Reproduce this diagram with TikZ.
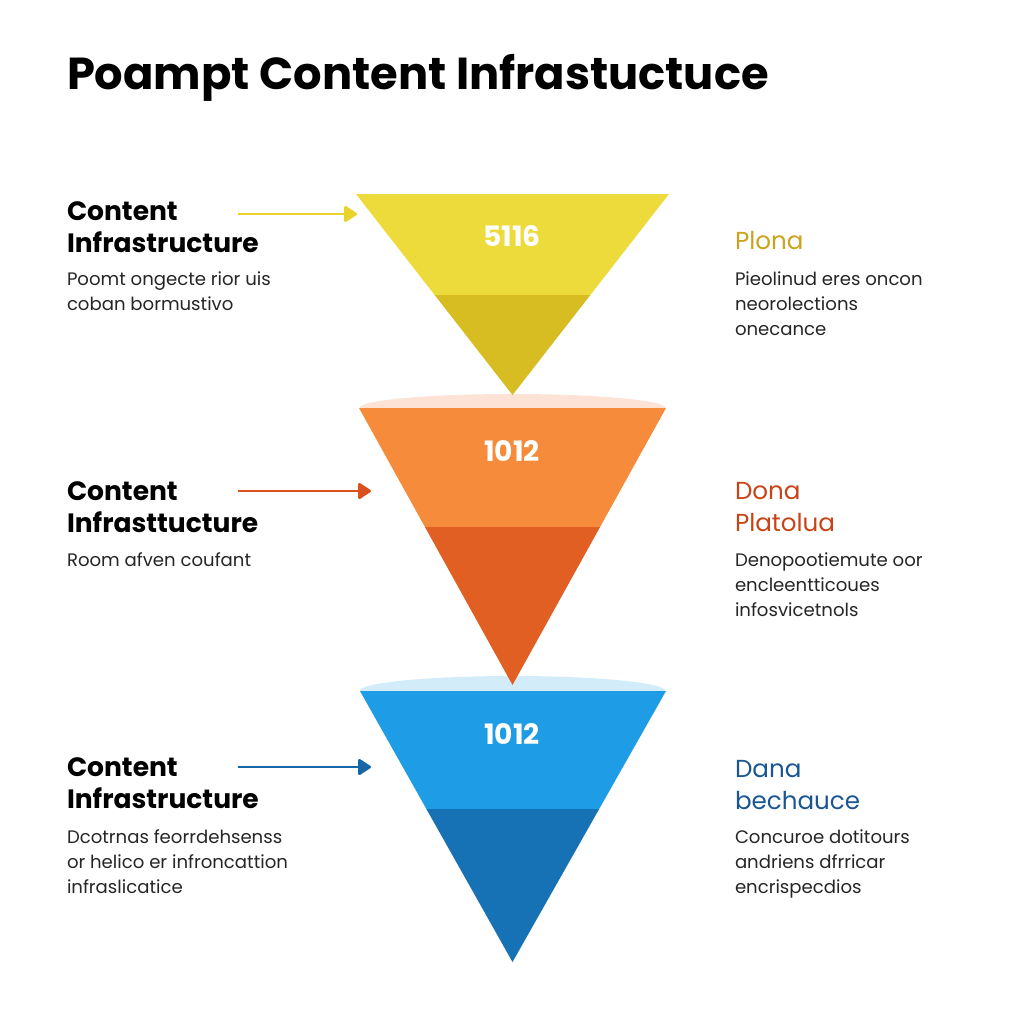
\documentclass[tikz,border=0pt]{standalone}
\usepackage{fontspec}
\setmainfont{Poppins}
\usetikzlibrary{arrows.meta,calc,positioning}

\definecolor{ytop}{HTML}{EDDA3B}
\definecolor{ylow}{HTML}{D7BD22}
\definecolor{otop}{HTML}{F68C3B}
\definecolor{olow}{HTML}{E15F22}
\definecolor{btop}{HTML}{1F9CE6}
\definecolor{blow}{HTML}{1671B5}
\definecolor{ocap}{HTML}{FCE3D6}
\definecolor{bcap}{HTML}{D3ECFA}
\definecolor{yarrow}{HTML}{E9D32B}
\definecolor{oarrow}{HTML}{D9511E}
\definecolor{barrow}{HTML}{1667A8}
\definecolor{ygold}{HTML}{C9A41F}
\definecolor{ored}{HTML}{C64418}
\definecolor{bnavy}{HTML}{1A5792}

\begin{document}
\begin{tikzpicture}
    [x=0.02cm,y=-0.02cm,
     every node/.style={inner sep=0pt,outer sep=0pt},
     head/.style={anchor=base west,align=left,font=\bfseries\fontsize{15.1}{18.2}\selectfont},
     desc/.style={anchor=base west,align=left,text=black!85,font=\fontsize{10.3}{14.2}\selectfont},
     side/.style={anchor=base west,align=left,font=\fontsize{14}{18.2}\selectfont},
     num/.style={text=white,font=\bfseries\fontsize{16}{19}\selectfont},
     pointer/.style={line width=1.5pt,-{Triangle[round,length=8pt,width=10pt]}}]
    \fill[white] (0,0) rectangle (1024,1024);
    \node[anchor=base west,font=\bfseries\fontsize{25.5}{30}\selectfont] (title) at (67,90) {Poampt Content Infrastuctuce};

    % light caps behind the lower funnels
    \fill[ocap] (512.5,408) ellipse [x radius=153,y radius=14];
    \fill[bcap] (512.5,691) ellipse [x radius=153,y radius=15];

    % the three funnels
    \foreach \i/\xl/\xr/\yt/\ya/\ys/\yn/\ct/\cl/\val in
      {1/356/669/194/395/295/236/ytop/ylow/5116,
       2/359/666/408/685/527/451/otop/olow/1012,
       3/360/666/691/962/809/734/btop/blow/1012} {
      \coordinate (tl\i) at (\xl,\yt);
      \coordinate (tr\i) at (\xr,\yt);
      \coordinate (ap\i) at (512.5,\ya);
      \pgfmathsetmacro\t{(\ys-\yt)/(\ya-\yt)}
      \fill[\ct] (tl\i) -- (tr\i) -- ($(tr\i)!\t!(ap\i)$) -- ($(tl\i)!\t!(ap\i)$) -- cycle;
      \fill[\cl] ($(tl\i)!\t!(ap\i)$) -- ($(tr\i)!\t!(ap\i)$) -- (ap\i) -- cycle;
      \node[num] (v\i) at (512,\yn) {\val};
    }

    % pointers from the left labels
    \foreach \i/\y/\xe/\c in {1/214/357/yarrow,2/491/371/oarrow,3/767/371/barrow} {
      \coordinate (ps\i) at (238,\y);
      \coordinate (pe\i) at (\xe,\y);
      \draw[pointer,\c] (ps\i) -- (pe\i);
    }

    % left column (base = last line)
    \node[head] (h1) at (67,252) {Content\\Infrastructure};
    \node[desc] (d1) at (67,310) {Poomt ongecte rior uis\\coban bormustivo};
    \node[head] (h2) at (67,532) {Content\\Infrasttucture};
    \node[desc] (d2) at (67,566) {Room afven coufant};
    \node[head] (h3) at (67,808) {Content\\Infrastructure};
    \node[desc] (d3) at (67,893) {Dcotrnas feorrdehsenss\\or helico er infroncattion\\infraslicatice};

    % right column
    \node[side,text=ygold] (s1) at (735,249) {Plona};
    \node[desc] (r1) at (735,335) {Pieolinud eres oncon\\neorolections\\onecance};
    \node[side,text=ored] (s2) at (735,531) {Dona\\Platolua};
    \node[desc] (r2) at (735,616) {Denopootiemute oor\\encleentticoues\\infosvicetnols};
    \node[side,text=bnavy] (s3) at (735,809) {Dana\\bechauce};
    \node[desc] (r3) at (735,893) {Concuroe dotitours\\andriens dfrricar\\encrispecdios};
\end{tikzpicture}
\end{document}
